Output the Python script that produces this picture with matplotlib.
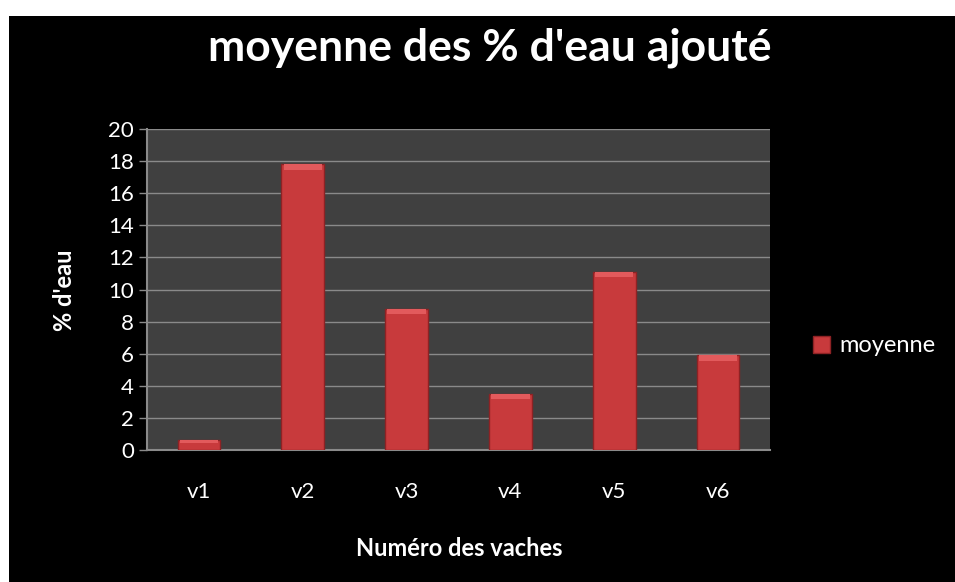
import matplotlib
matplotlib.use('Agg')
import matplotlib.pyplot as plt
from matplotlib.patches import Rectangle
import numpy as np

categories = ['v1', 'v2', 'v3', 'v4', 'v5', 'v6']
moyenne = [0.6, 17.8, 8.8, 3.5, 11.1, 5.9]
yticks = [0, 2, 4, 6, 8, 10, 12, 14, 16, 18, 20]

plt.rcParams['font.family'] = ['Lato', 'DejaVu Sans']

fig = plt.figure(figsize=(9.55, 5.82), dpi=100)
fig.patch.set_facecolor('white')
# black chart area (white margin at top and left)
fig.patches.append(Rectangle((9 / 955, 0), 1, 1 - 16 / 582, transform=fig.transFigure,
                             facecolor='black', edgecolor='none', zorder=-5))

ax = fig.add_axes([147 / 955, 1 - 450 / 582, 623 / 955, 321 / 582])
ax.set_zorder(2)
ax.set_facecolor('#404040')

x = np.arange(len(categories))
bars = ax.bar(x, moyenne, width=0.41, color='#c83a3c', edgecolor='#8e2224',
              linewidth=1, zorder=3, label='moyenne')
# lighter highlight along the top of each bar
ax.bar(x, [min(0.35, v * 0.3) for v in moyenne], bottom=[v - min(0.35, v * 0.3) for v in moyenne],
       width=0.37, color='#e25a5c', edgecolor='none', zorder=4)

ax.set_xlim(-0.5, len(categories) - 0.5)
ax.set_ylim(0, 20)
ax.set_yticks(yticks)
ax.set_xticks(x)
ax.set_xticklabels(categories)
ax.grid(axis='y', color='#8a8a8a', linewidth=1, zorder=1)
ax.tick_params(axis='y', colors='#8a8a8a', labelcolor='white', labelsize=16, length=6, width=1)
ax.tick_params(axis='x', length=0, labelcolor='white', labelsize=16, pad=23)
for s in ['top', 'right']:
    ax.spines[s].set_visible(False)
for s in ['left', 'bottom']:
    ax.spines[s].set_color('#8a8a8a')
    ax.spines[s].set_linewidth(1.5)

fig.text(490 / 955, 1 - 48 / 582, "moyenne des % d'eau ajouté", color='white', fontsize=32,
         fontweight='bold', ha='center', va='center')
fig.text(459 / 955, 1 - 548 / 582, 'Numéro des vaches', color='white', fontsize=17,
         fontweight='bold', ha='center', va='center')
fig.text(64 / 955, 1 - 290 / 582, "% d'eau", color='white', fontsize=17,
         fontweight='bold', ha='center', va='center', rotation=90)

leg = fig.legend(handles=[bars], labels=['moyenne'], loc='center left',
                 bbox_to_anchor=(792 / 955, 1 - 346 / 582), frameon=False,
                 fontsize=17, handlelength=0.7, handleheight=0.7, handletextpad=0.4)
for t in leg.get_texts():
    t.set_color('white')

fig.savefig('out.png', dpi=100, facecolor=fig.get_facecolor())
